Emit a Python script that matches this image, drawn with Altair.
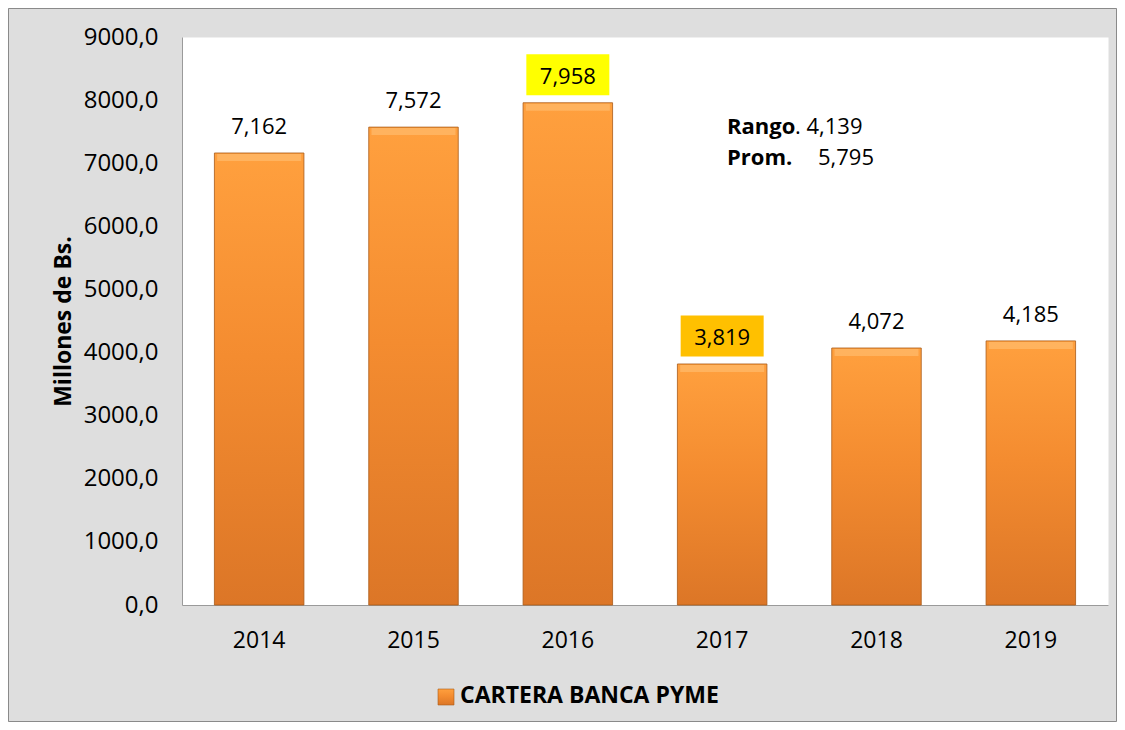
import altair as alt
import pandas as pd

# ---- data ----
years = ["2014", "2015", "2016", "2017", "2018", "2019"]
values = [7162, 7572, 7958, 3819, 4072, 4185]
labels = ["7,162", "7,572", "7,958", "3,819", "4,072", "4,185"]
highlight_years = ["2016", "2017"]
highlight_values = [7958, 3819]
highlight_colors = ["#FFFF00", "#FFC000"]
y_ticks = [0, 1000, 2000, 3000, 4000, 5000, 6000, 7000, 8000, 9000]
series_name = ["CARTERA BANCA PYME"]
stats_keys = ["Rango", "Prom."]
stats_vals = [". 4,139", "5,795"]
y_title = "Millones de Bs."

df = pd.DataFrame({"year": years, "value": values, "label": labels})
hl = pd.DataFrame({"year": highlight_years, "value": highlight_values, "color": highlight_colors})

W, H = 926, 568
FONT = "Open Sans"

bar_grad = alt.Gradient(
    gradient="linear",
    stops=[
        alt.GradientStop(color="#FFA03E", offset=0),
        alt.GradientStop(color="#F48C30", offset=0.45),
        alt.GradientStop(color="#DC7627", offset=1),
    ],
    x1=0, x2=0, y1=0, y2=1,
)

x_enc = alt.X(
    "year:N",
    scale=alt.Scale(paddingInner=0.42, paddingOuter=0.21),
    axis=alt.Axis(
        title=None, labelAngle=0, labelFontSize=23, labelPadding=24, ticks=False,
        domainColor="#9a9a9a", labelColor="#000000", labelFont=FONT,
    ),
)
y_enc = alt.Y(
    "value:Q",
    scale=alt.Scale(domain=[0, 9000], nice=False),
    axis=alt.Axis(
        values=y_ticks, title=y_title, grid=False, ticks=False,
        labelFontSize=24, labelPadding=24, labelFont=FONT, labelColor="#000000",
        labelExpr="replace(format(datum.value, '.1f'), '.', ',')",
        domainColor="#9a9a9a", titleFontSize=23, titleFont=FONT,
        titleFontWeight="bold", titleColor="#000000", titlePadding=8,
    ),
)

bars = alt.Chart(df).mark_bar(
    color=bar_grad, stroke="#A95A18", strokeWidth=0.8
).encode(x=x_enc, y=y_enc)

bevel = alt.Chart(df).mark_tick(
    color="#FFC27A", opacity=0.55, thickness=7, size=84, yOffset=4.5
).encode(x=x_enc, y=y_enc)

boxes = alt.Chart(hl).mark_point(
    shape="M-1,-0.494L1,-0.494L1,0.494L-1,0.494Z", size=83 * 83,
    filled=True, opacity=1, yOffset=-28,
).encode(
    x=x_enc, y=y_enc,
    fill=alt.Fill("color:N", scale=None, legend=None),
)

texts = alt.Chart(df).mark_text(
    fontSize=22, font=FONT, color="#000000", baseline="middle", dy=-26, align="center"
).encode(x=x_enc, y=y_enc, text="label:N")

def label(txt, xv, yv, bold):
    return alt.Chart(pd.DataFrame({"t": [txt]})).mark_text(
        fontSize=22, font=FONT, color="#000000", align="left", baseline="middle",
        fontWeight="bold" if bold else "normal",
    ).encode(text="t:N", x=alt.value(xv), y=alt.value(yv))

stat1 = label(stats_keys[0], 545, 90, True)
stat1v = label(stats_vals[0], 613, 90, False)
stat2 = label(stats_keys[1], 545, 121, True)
stat2v = label(stats_vals[1], 636, 121, False)

legend_sq = alt.Chart(pd.DataFrame({"s": series_name})).mark_point(
    shape="square", size=16 * 16, filled=True, opacity=1, color=bar_grad,
    stroke="#A95A18", strokeWidth=0.6,
).encode(x=alt.value(264), y=alt.value(660))
legend_txt = alt.Chart(pd.DataFrame({"s": series_name})).mark_text(
    fontSize=23, font=FONT, fontWeight="bold", color="#000000", align="left", baseline="middle"
).encode(text="s:N", x=alt.value(278), y=alt.value(659))

frame = alt.Chart(pd.DataFrame({"f": [0]})).mark_rect(
    fill="transparent", stroke="#8a8a8a", strokeWidth=1
).encode(
    x=alt.value(-173.5), x2=alt.value(934.5), y=alt.value(-28.5), y2=alt.value(684.5)
)

chart = alt.layer(
    bars, bevel, boxes, texts, stat1, stat1v, stat2, stat2v, legend_sq, legend_txt, frame
).properties(
    width=W, height=H,
    autosize=alt.AutoSizeParams(type="none"),
    padding={"left": 174, "top": 29, "right": 9, "bottom": 117},
).configure(
    background="#DEDEDE"
).configure_view(
    fill="#FFFFFF", stroke="transparent"
)

chart.save("out.html", embed_options={"renderer": "svg", "actions": False})
